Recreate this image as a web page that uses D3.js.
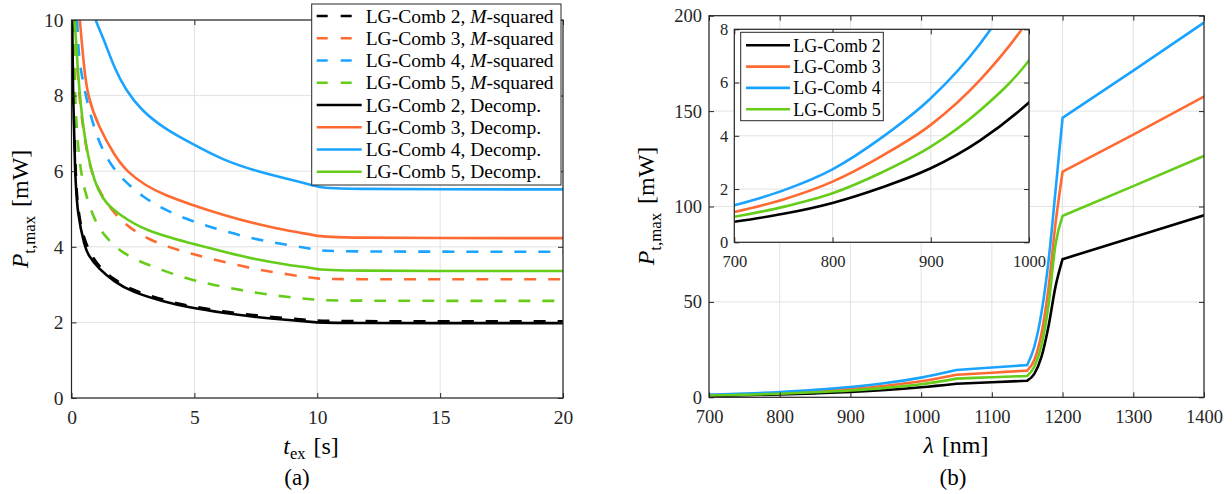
<!DOCTYPE html>
<html>
<head>
<meta charset="utf-8">
<script src="https://cdn.jsdelivr.net/npm/d3@7"></script>
<style>
  body { margin: 0; background: #fff; }
  svg text { font-family: "Liberation Serif", "Times New Roman", Times, serif; }
</style>
</head>
<body>
<svg id="chart" width="1232" height="494"></svg>
<script>
// ---- data: panel (a), [t_ex (s), P (mW)] ----
const mSquared2 = [[0.05,10],[0.08,8],[0.16,6],[0.26,4.9],[0.56,4.05],[1.08,3.48],[1.76,3.12],[2.44,2.86],[3.8,2.58],[4.81,2.43],[6.17,2.29],[7.53,2.18],[8.89,2.1],[10,2.05],[10.3,2.03],[20,2.03]];
const mSquared3 = [[0.15,10],[0.27,8],[0.68,6.2],[1.08,5.5],[1.76,4.85],[2.37,4.5],[3.12,4.2],[4,3.98],[4.81,3.83],[6.17,3.6],[7.53,3.4],[8.89,3.26],[10,3.16],[10.3,3.14],[20,3.14]];
const mSquared4 = [[0.23,10],[0.27,9.34],[0.34,8.81],[0.57,8],[1.02,6.87],[1.63,6.11],[2.3,5.65],[2.92,5.32],[3.66,5.02],[4.81,4.69],[6.17,4.42],[7.53,4.19],[8.89,4.04],[10,3.92],[10.3,3.87],[20,3.87]];
const mSquared5 = [[0.08,10],[0.14,8],[0.22,7],[0.35,6.1],[0.54,5.45],[0.95,4.66],[1.42,4.22],[2.1,3.82],[3,3.54],[4.81,3.12],[6.17,2.94],[7.53,2.78],[8.89,2.66],[10,2.6],[10.3,2.57],[20,2.57]];
const decomp2 = [[0.03,10],[0.06,8],[0.14,6],[0.24,4.85],[0.54,4],[0.68,3.78],[1.08,3.43],[1.76,3.07],[2.44,2.81],[3.8,2.54],[4.81,2.39],[6.17,2.25],[7.53,2.14],[8.89,2.06],[10,2],[10.3,1.98],[20,1.98]];
const decomp3 = [[0.34,10],[0.5,8.8],[0.65,8],[1.08,7.2],[1.76,6.4],[2.24,6],[3,5.62],[3.8,5.37],[4.81,5.13],[6.17,4.84],[7.53,4.6],[8.89,4.41],[10,4.3],[10.3,4.23],[20,4.23]];
const decomp4 = [[0.98,10],[1.35,9.43],[1.76,8.7],[2.21,8.15],[2.85,7.6],[3.8,7.12],[4.81,6.76],[6.17,6.29],[7.53,6],[8.89,5.78],[10,5.6],[10.3,5.52],[20,5.52]];
const decomp5 = [[0.13,10],[0.32,8],[0.55,6.8],[0.81,6],[1.08,5.5],[1.4,5.15],[1.97,4.84],[3,4.42],[4.81,4.1],[6.17,3.87],[7.53,3.66],[8.89,3.51],[10,3.42],[10.3,3.36],[20,3.36]];
const legendA = ["LG-Comb 2, |M|-squared","LG-Comb 3, |M|-squared","LG-Comb 4, |M|-squared","LG-Comb 5, |M|-squared",
                 "LG-Comb 2, Decomp.","LG-Comb 3, Decomp.","LG-Comb 4, Decomp.","LG-Comb 5, Decomp."];
const ticksAx = [0, 5, 10, 15, 20];
const ticksAy = [0, 2, 4, 6, 8, 10];

// ---- data: panel (b), wavelength (nm) vs P (mW) ----
const lambda = [700, 750, 800, 850, 900, 950, 1000, 1050, 1100, 1150, 1160, 1170, 1180, 1190, 1200, 1300, 1400];
const comb2 = [0.77, 1.07, 1.48, 2.06, 2.78, 3.82, 5.25, 7.1, 7.9, 8.7, 12.3, 21, 37, 58, 72.4, 83.9, 95.4];
const comb3 = [1.14, 1.61, 2.28, 3.24, 4.41, 6.09, 8.4, 11.8, 12.9, 14, 19.5, 33, 57, 91, 118.2, 137.7, 157.6];
const comb4 = [1.39, 1.95, 2.74, 3.93, 5.41, 7.45, 10.3, 14.3, 15.6, 16.9, 26.5, 44, 71, 108, 146.5, 171.2, 196.4];
const comb5 = [0.96, 1.33, 1.84, 2.62, 3.59, 4.95, 6.83, 9.8, 10.5, 11.2, 16, 27, 48, 80, 95.1, 110.7, 126.5];
const kinks = [0, 7, 9, 14, 16]; // indices into lambda where the curves bend sharply
const legendB = ["LG-Comb 2", "LG-Comb 3", "LG-Comb 4", "LG-Comb 5"];
const ticksBx = [700, 800, 900, 1000, 1100, 1200, 1300, 1400];
const ticksBy = [0, 50, 100, 150, 200];
const ticksIx = [700, 800, 900, 1000];
const ticksIy = [0, 2, 4, 6, 8];

const colors = ["#000000", "#ff6a33", "#1aa3ff", "#66cc1a"];
const axisColor = "#262626";
const gridColor = "#e2e2e2";
const serif = '"Liberation Serif", "Times New Roman", Times, serif';

const svg = d3.select("#chart").attr("font-family", serif);

// white background plus light grid
function frame(g, x, y, xTicks, yTicks) {
  const [x0, x1] = x.range();
  const [y0, y1] = y.range();
  g.append("rect").attr("x", x0).attr("y", y1).attr("width", x1 - x0).attr("height", y0 - y1).attr("fill", "#fff");
  const grid = g.append("g").attr("stroke", gridColor).attr("stroke-width", 1);
  grid.selectAll(".gx").data(xTicks).join("line")
    .attr("x1", d => x(d)).attr("x2", d => x(d)).attr("y1", y0).attr("y2", y1);
  grid.selectAll(".gy").data(yTicks).join("line")
    .attr("y1", d => y(d)).attr("y2", d => y(d)).attr("x1", x0).attr("x2", x1);
}

// box with inward ticks on all four sides
function axes(g, x, y, xTicks, yTicks, fontSize, padX, padY) {
  const [x0, x1] = x.range();
  const [y0, y1] = y.range();
  const style = sel => {
    sel.select(".domain").remove();
    sel.attr("font-family", serif).attr("font-size", fontSize).attr("color", axisColor);
    sel.selectAll("text").attr("font-family", serif);
    sel.selectAll("line").attr("stroke-width", 1);
  };
  g.append("g").attr("transform", `translate(0,${y0})`)
    .call(d3.axisBottom(x).tickValues(xTicks).tickSizeInner(-5).tickSizeOuter(0).tickPadding(padX).tickFormat(d3.format("d")))
    .call(style);
  g.append("g").attr("transform", `translate(0,${y1})`)
    .call(d3.axisTop(x).tickValues(xTicks).tickSizeInner(-5).tickSizeOuter(0).tickFormat(""))
    .call(style);
  g.append("g").attr("transform", `translate(${x0},0)`)
    .call(d3.axisLeft(y).tickValues(yTicks).tickSizeInner(-5).tickSizeOuter(0).tickPadding(padY).tickFormat(d3.format("d")))
    .call(style);
  g.append("g").attr("transform", `translate(${x1},0)`)
    .call(d3.axisRight(y).tickValues(yTicks).tickSizeInner(-5).tickSizeOuter(0).tickFormat(""))
    .call(style);
  g.append("rect").attr("x", x0).attr("y", y1).attr("width", x1 - x0).attr("height", y0 - y1)
    .attr("fill", "none").attr("stroke", axisColor).attr("stroke-width", 1.2);
}

function clip(id, x, y) {
  const [x0, x1] = x.range();
  const [y0, y1] = y.range();
  svg.append("clipPath").attr("id", id).append("rect")
    .attr("x", x0).attr("y", y1).attr("width", x1 - x0).attr("height", y0 - y1);
}

function yLabel(cx, cy, size) {
  const t = svg.append("text").attr("transform", `translate(${cx},${cy}) rotate(-90)`)
    .attr("text-anchor", "middle").attr("font-size", size).attr("fill", "#000");
  t.append("tspan").attr("font-style", "italic").text("P");
  t.append("tspan").attr("font-size", size * 0.7).attr("dy", size * 0.28).text("t,max");
  t.append("tspan").attr("dy", -size * 0.28).attr("dx", 9).text("[mW]");
}

// legend text with an italic part between bars
function richText(sel, str) {
  str.split("|").forEach((part, i) => {
    sel.append("tspan").attr("font-style", i % 2 ? "italic" : null).text(part);
  });
}

// ================= panel (a) =================
const xA = d3.scaleLinear().domain([0, 20]).range([71.5, 563]);
const yA = d3.scaleLinear().domain([0, 10]).range([398, 20]);
const gA = svg.append("g");
frame(gA, xA, yA, ticksAx, ticksAy);
clip("clipA", xA, yA);

const lineA = d3.line().x(d => xA(d[0])).y(d => yA(d[1])).curve(d3.curveBasis);
const seriesA = [mSquared2, mSquared3, mSquared4, mSquared5, decomp2, decomp3, decomp4, decomp5];
gA.append("g").attr("clip-path", "url(#clipA)")
  .selectAll("path").data(seriesA).join("path")
  .attr("d", d => lineA(d))
  .attr("fill", "none")
  .attr("stroke", (d, i) => colors[i % 4])
  .attr("stroke-width", 2.6)
  .attr("stroke-dasharray", (d, i) => i < 4 ? "12,12" : null);

axes(gA, xA, yA, ticksAx, ticksAy, 19.5, 12, 8);

// legend (a)
const legA = gA.append("g");
legA.append("rect").attr("x", 311.7).attr("y", 4).attr("width", 249.3).attr("height", 181)
  .attr("fill", "#fff").attr("stroke", axisColor).attr("stroke-width", 1);
legendA.forEach((name, i) => {
  const cy = 16 + i * 22.25;
  legA.append("line").attr("x1", 316.7).attr("x2", 361.7).attr("y1", cy).attr("y2", cy)
    .attr("stroke", colors[i % 4]).attr("stroke-width", 2.6)
    .attr("stroke-dasharray", i < 4 ? "11,13" : null);
  const t = legA.append("text").attr("x", 365.7).attr("y", cy + 6.5).attr("font-size", 19.5).attr("fill", "#000");
  richText(t, name);
});

// axis labels (a)
yLabel(28, 209, 24);
const xlabA = svg.append("text").attr("x", 311).attr("y", 454).attr("text-anchor", "middle")
  .attr("font-size", 24).attr("fill", "#000");
xlabA.append("tspan").attr("font-style", "italic").text("t");
xlabA.append("tspan").attr("font-size", 16.5).attr("dy", 5).text("ex");
xlabA.append("tspan").attr("dy", -5).attr("dx", 8).text("[s]");
svg.append("text").attr("x", 297).attr("y", 485).attr("text-anchor", "middle")
  .attr("font-size", 23).attr("fill", "#000").text("(a)");

// ================= panel (b) =================
const xB = d3.scaleLinear().domain([700, 1400]).range([709, 1204]);
const yB = d3.scaleLinear().domain([0, 200]).range([397.3, 15.7]);
const gB = svg.append("g");
frame(gB, xB, yB, ticksBx, ticksBy);
clip("clipB", xB, yB);

// smooth between the kinks, sharp at them
function kinked(values, line, upTo) {
  return d3.pairs(kinks.filter(k => k <= upTo))
    .map(([a, b]) => line(values.slice(a, b + 1).map((v, k) => [lambda[a + k], v])))
    .join("");
}

const seriesB = [comb2, comb3, comb4, comb5];
const lineB = d3.line().x(d => xB(d[0])).y(d => yB(d[1])).curve(d3.curveMonotoneX);
gB.append("g").attr("clip-path", "url(#clipB)")
  .selectAll("path").data(seriesB).join("path")
  .attr("d", d => kinked(d, lineB, 16))
  .attr("fill", "none")
  .attr("stroke", (d, i) => colors[i])
  .attr("stroke-width", 2.6)
  .attr("stroke-linecap", "round");

axes(gB, xB, yB, ticksBx, ticksBy, 18.5, 13, 7);

// inset
const xI = d3.scaleLinear().domain([700, 1000]).range([734.3, 1029]);
const yI = d3.scaleLinear().domain([0, 8]).range([242.3, 29.3]);
const gI = svg.append("g");
frame(gI, xI, yI, ticksIx, ticksIy);
clip("clipI", xI, yI);
const lineI = d3.line().x(d => xI(d[0])).y(d => yI(d[1])).curve(d3.curveMonotoneX);
gI.append("g").attr("clip-path", "url(#clipI)")
  .selectAll("path").data(seriesB).join("path")
  .attr("d", d => kinked(d, lineI, 7))
  .attr("fill", "none")
  .attr("stroke", (d, i) => colors[i])
  .attr("stroke-width", 2.6);
axes(gI, xI, yI, ticksIx, ticksIy, 16.5, 13, 6);

const legB = gI.append("g");
legB.append("rect").attr("x", 740.7).attr("y", 32.3).attr("width", 142.6).attr("height", 88.4)
  .attr("fill", "#fff").attr("stroke", axisColor).attr("stroke-width", 1);
legendB.forEach((name, i) => {
  const cy = 45.3 + i * 21.3;
  legB.append("line").attr("x1", 746).attr("x2", 790).attr("y1", cy).attr("y2", cy)
    .attr("stroke", colors[i]).attr("stroke-width", 2.6);
  legB.append("text").attr("x", 793.3).attr("y", cy + 6.5).attr("font-size", 18).attr("fill", "#000").text(name);
});

// axis labels (b)
yLabel(654, 206, 24);
const xlabB = svg.append("text").attr("x", 956).attr("y", 453).attr("text-anchor", "middle")
  .attr("font-size", 24).attr("fill", "#000");
xlabB.append("tspan").attr("font-style", "italic").text("λ");
xlabB.append("tspan").attr("dx", 8).text("[nm]");
svg.append("text").attr("x", 953).attr("y", 485).attr("text-anchor", "middle")
  .attr("font-size", 23).attr("fill", "#000").text("(b)");
</script>
</body>
</html>
